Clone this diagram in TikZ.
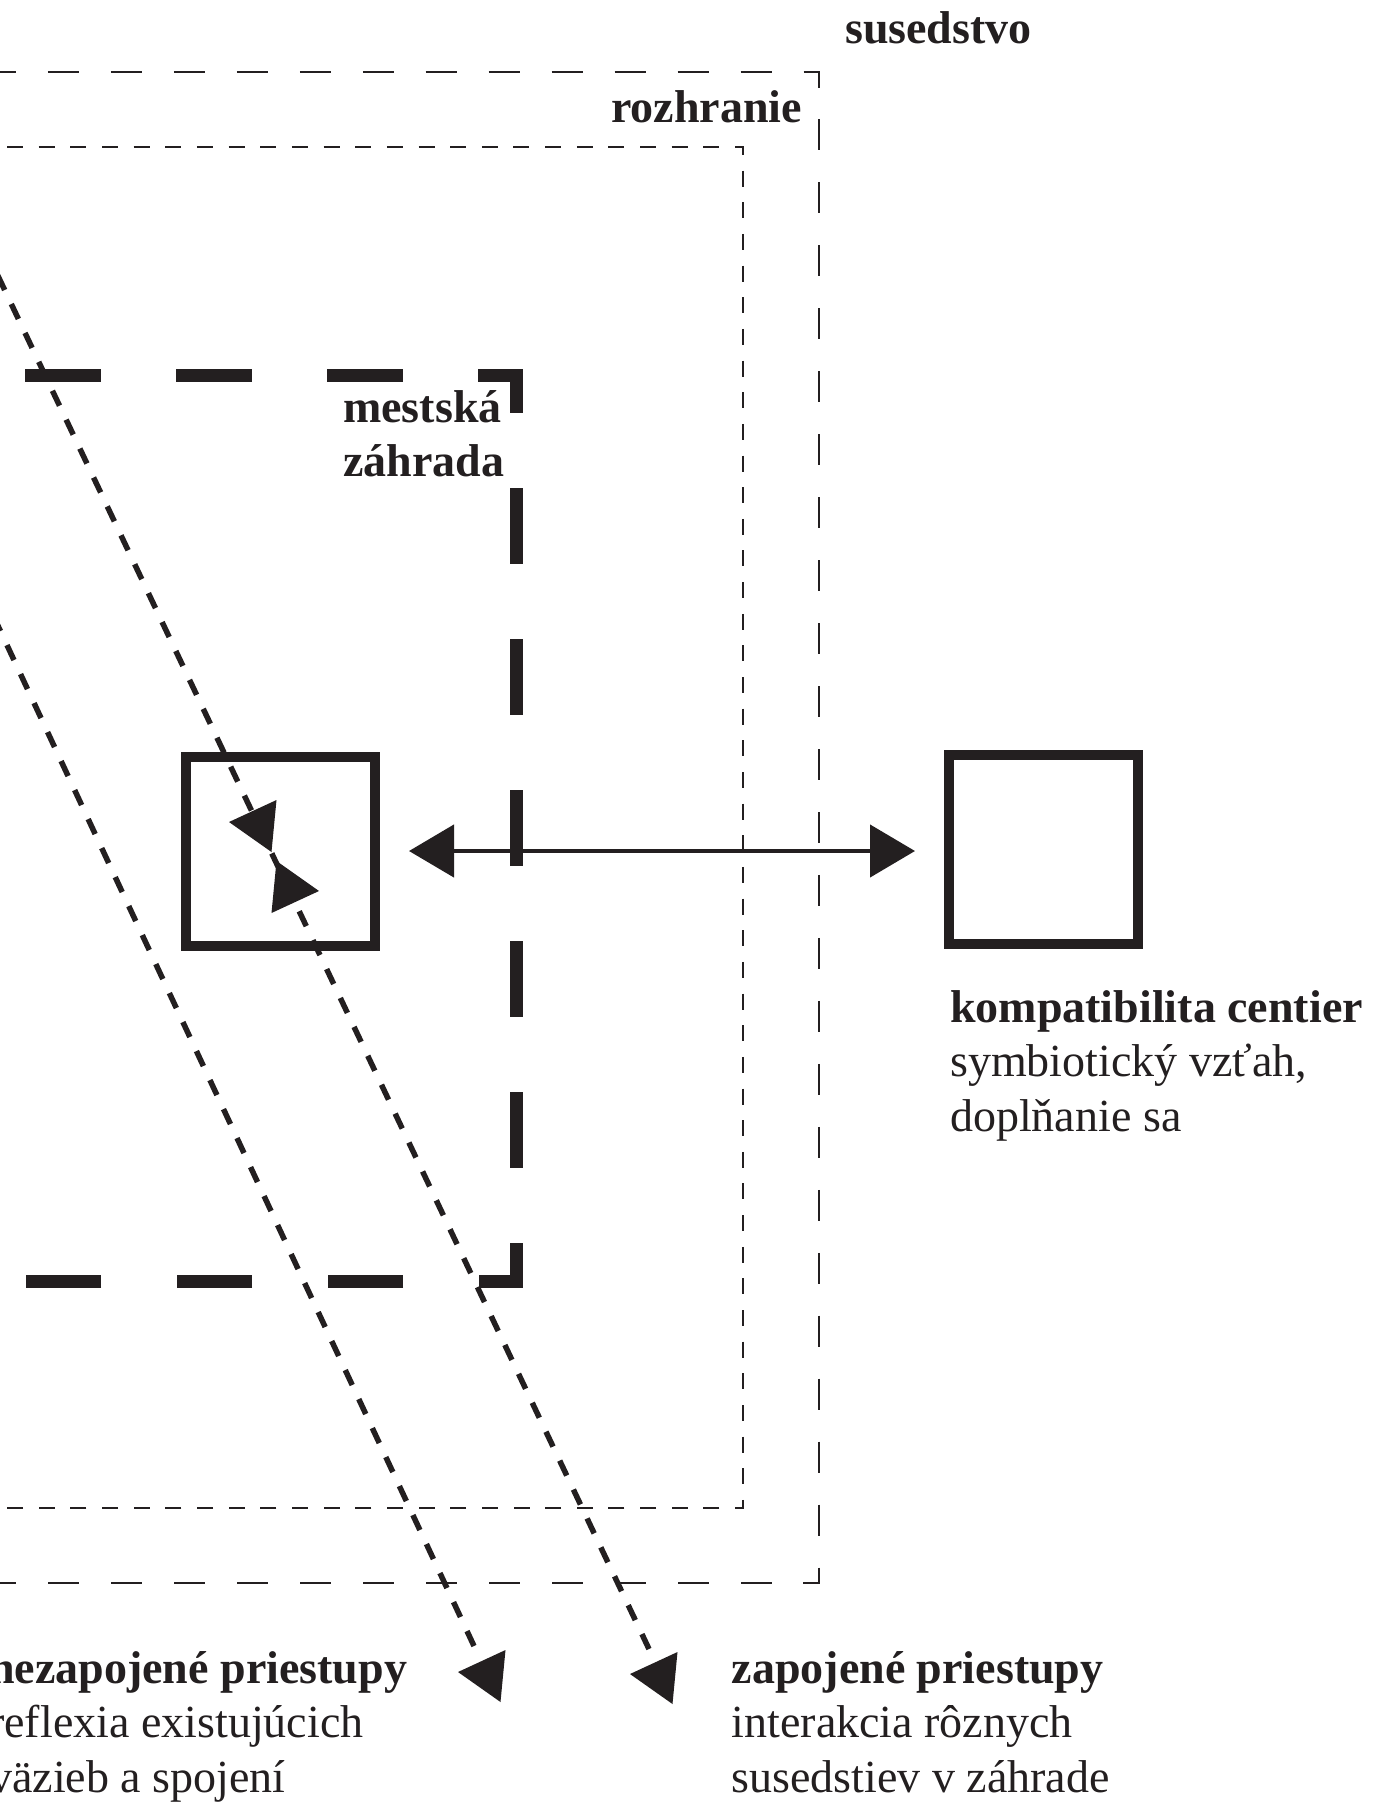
\documentclass[tikz,border=0pt]{standalone}
\usepackage{fontspec}
\setmainfont{Liberation Serif}
\usetikzlibrary{arrows.meta}
\definecolor{ink}{RGB}{35,31,32}
\begin{document}
\begin{tikzpicture}[x=1pt,y=-1pt,
  outerline/.style={draw=ink, line width=2.2pt, dash pattern=on 31pt off 31.96pt, dash phase=4.98pt, line join=miter},
  midline/.style={draw=ink, line width=2.2pt, dash pattern=on 16pt off 15.65pt, dash phase=14.6pt, line join=miter},
  gardenline/.style={draw=ink, line width=13pt, dash pattern=on 75.5pt off 75.5pt, line join=miter},
  dotline/.style={draw=ink, line width=5.5pt, dash pattern=on 16.5pt off 15.5pt},
  box/.style={draw=ink, line width=10pt, minimum width=189pt, minimum height=189pt, inner sep=0pt, outer sep=0pt},
  link/.style={draw=ink, line width=4.5pt, {Triangle[length=45pt,width=52pt]}-{Triangle[length=45pt,width=52pt]}, shorten <=34pt, shorten >=34pt},
  head/.style={fill=ink},
  title/.style={font=\fontsize{46}{54.5}\selectfont\bfseries, text=ink, inner sep=0pt},
  caption/.style={font=\fontsize{46}{54.5}\selectfont, text=ink, inner sep=0pt, align=left, anchor=base west}
]
\useasboundingbox (0,0) rectangle (1379,1805);

% nested zones
\draw[outerline] (-10,72) -- (819,72) -- (819,1583) -- (-10,1583);
\draw[midline] (-10,147) -- (743,147) -- (743,1508) -- (-10,1508);
\draw[gardenline] (25,375) -- (516,375) -- (516,1281) -- (-60,1281);

% transit lines
\coordinate (a0) at (-38,200);
\coordinate (a1) at (649,1649);
\coordinate (b0) at (-32.7,560);
\coordinate (b1) at (474,1646);
\draw[dotline] (a1) -- (a0);
\draw[dotline] (b1) -- (b0);

% centres
\node[box] (lb) at (280.5,851) {};
\node[box] (rb) at (1043.5,849) {};
\draw[link] (lb.east) -- (lb.east -| rb.west);

% arrow heads
\coordinate (t1) at (229,822);
\coordinate (t2) at (319,891);
\coordinate (ta) at (630,1674);
\coordinate (tb) at (458,1672);
\fill[head] (t1) -- ++(47.5,-22) -- ++(-5,52) -- cycle;
\fill[head] (t2) -- ++(-47.5,22) -- ++(5,-52) -- cycle;
\fill[head] (ta) -- ++(47.5,-22) -- ++(-5,52) -- cycle;
\fill[head] (tb) -- ++(47.5,-22) -- ++(-5,52) -- cycle;

% labels (base anchor of a multi-line node = baseline of its last line)
\node[title, anchor=base west] (sus) at (845,43) {susedstvo};
\node[title, anchor=base east] (roz) at (802,122) {rozhranie};
\node[title, align=left, anchor=base west] (mz) at (343,476.5) {mestská\\záhrada};
\node[caption] (kc) at (950,1131) {\textbf{kompatibilita centier}\\symbiotický vzťah,\\doplňanie sa};
\node[caption] (np) at (-11,1792) {\textbf{nezapojené priestupy}\\reflexia existujúcich\\väzieb a spojení};
\node[caption] (zp) at (731.5,1792) {\textbf{zapojené priestupy}\\interakcia rôznych\\susedstiev v záhrade};
\end{tikzpicture}
\end{document}
